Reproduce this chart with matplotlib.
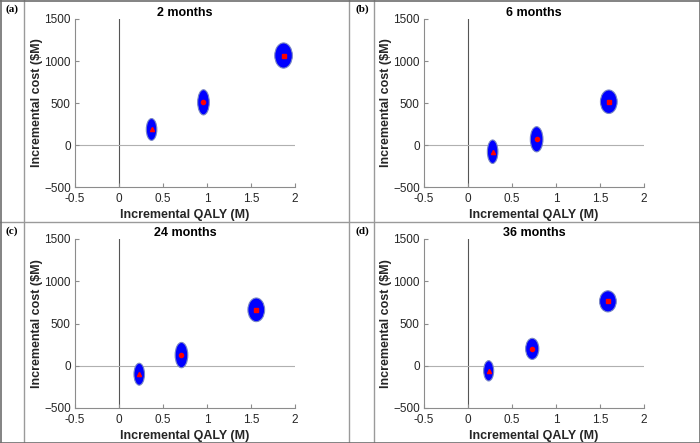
import numpy as np
import matplotlib.pyplot as plt
from matplotlib.patches import Ellipse
from matplotlib.lines import Line2D

plt.rcParams['font.family'] = ['Liberation Sans', 'DejaVu Sans']

# PSA clouds: mean of each cloud and its half spread
titles = ['2 months', '6 months', '24 months', '36 months']
tags = ['(a)', '(b)', '(c)', '(d)']
qaly_mean = [[0.37, 0.96, 1.87], [0.28, 0.78, 1.60], [0.23, 0.71, 1.56], [0.235, 0.73, 1.59]]
cost_mean = [[185, 508, 1065], [-80, 68, 515], [-100, 126, 662], [-60, 200, 762]]
qaly_half = [[0.06, 0.066, 0.10], [0.06, 0.072, 0.095], [0.06, 0.072, 0.095], [0.057, 0.075, 0.095]]
cost_half = [[130, 150, 150], [140, 150, 140], [130, 150, 140], [120, 125, 125]]
markers = ['^', 'o', 's']

xticks = [-0.5, 0, 0.5, 1, 1.5, 2]
xticklabels = ['-0.5', '0', '0.5', '1', '1.5', '2']
yticks = [-500, 0, 500, 1000, 1500]

W, H = 700, 443
fig = plt.figure(figsize=(7, 4.43), dpi=100)

# axes boxes in pixels: left, top, right, bottom
boxes = [(75, 19, 295, 187), (424, 19, 644, 187),
         (75, 239, 295, 408), (424, 239, 644, 408)]
txt = '#262626'
spine_c = '#8c8c8c'

for i in range(4):
    l, t, r, b = boxes[i]
    ax = fig.add_axes([l / W, 1 - b / H, (r - l) / W, (b - t) / H])
    ax.set_xlim(-0.5, 2)
    ax.set_ylim(-500, 1500)
    ax.axvline(0, color='#555555', lw=0.8, zorder=1)
    ax.axhline(0, color='#b0b0b0', lw=0.8, zorder=1)
    for k in range(3):
        e = Ellipse((qaly_mean[i][k], cost_mean[i][k]), 2 * qaly_half[i][k], 2 * cost_half[i][k],
                    facecolor='#0000ff', edgecolor='#7b88c4', lw=0.8, zorder=2)
        ax.add_patch(e)
        ax.plot(qaly_mean[i][k], cost_mean[i][k], marker=markers[k], color='red',
                markersize=3, ls='none', zorder=3)
    for s in ['top', 'right']:
        ax.spines[s].set_visible(False)
    for s in ['left', 'bottom']:
        ax.spines[s].set_color(spine_c)
        ax.spines[s].set_linewidth(0.8)
    ax.set_xticks(xticks)
    ax.set_xticklabels(xticklabels)
    ax.set_yticks(yticks)
    ax.tick_params(direction='in', length=3, color=spine_c, labelsize=8.5,
                   labelcolor=txt)
    ax.tick_params(axis='x', pad=4.5)
    ax.tick_params(axis='y', pad=3)
    ax.set_xlabel('Incremental QALY (M)', fontsize=9, fontweight='bold', color=txt, labelpad=3)
    ax.set_ylabel('Incremental cost ($M)', fontsize=9, fontweight='bold', color=txt, labelpad=1)
    ax.set_title(titles[i], fontsize=9, fontweight='bold', color='black', pad=2)

# panel tags
tag_pos = [(12, 9), (362, 9), (12, 231), (362, 231)]
for i in range(4):
    x, y = tag_pos[i]
    fig.text(x / W, 1 - y / H, tags[i], ha='center', va='center', fontsize=8,
             fontweight='bold', family=['Liberation Serif', 'DejaVu Serif'])

# table grid lines
grid_c = '#9a9a9a'
for x in [24, 348.5, 373.5]:
    fig.add_artist(Line2D([x / W, x / W], [0, 1], color=grid_c, lw=1))
fig.add_artist(Line2D([0, 1], [1 - 221.7 / H, 1 - 221.7 / H], color=grid_c, lw=1))
for x in [0.5 / W, 1 - 0.5 / W]:
    fig.add_artist(Line2D([x, x], [0, 1], color='#6e6e6e', lw=1.2))
for y in [0.5 / H, 1 - 0.5 / H]:
    fig.add_artist(Line2D([0, 1], [y, y], color='#6e6e6e', lw=1.2))

fig.savefig('out.png', dpi=100)
